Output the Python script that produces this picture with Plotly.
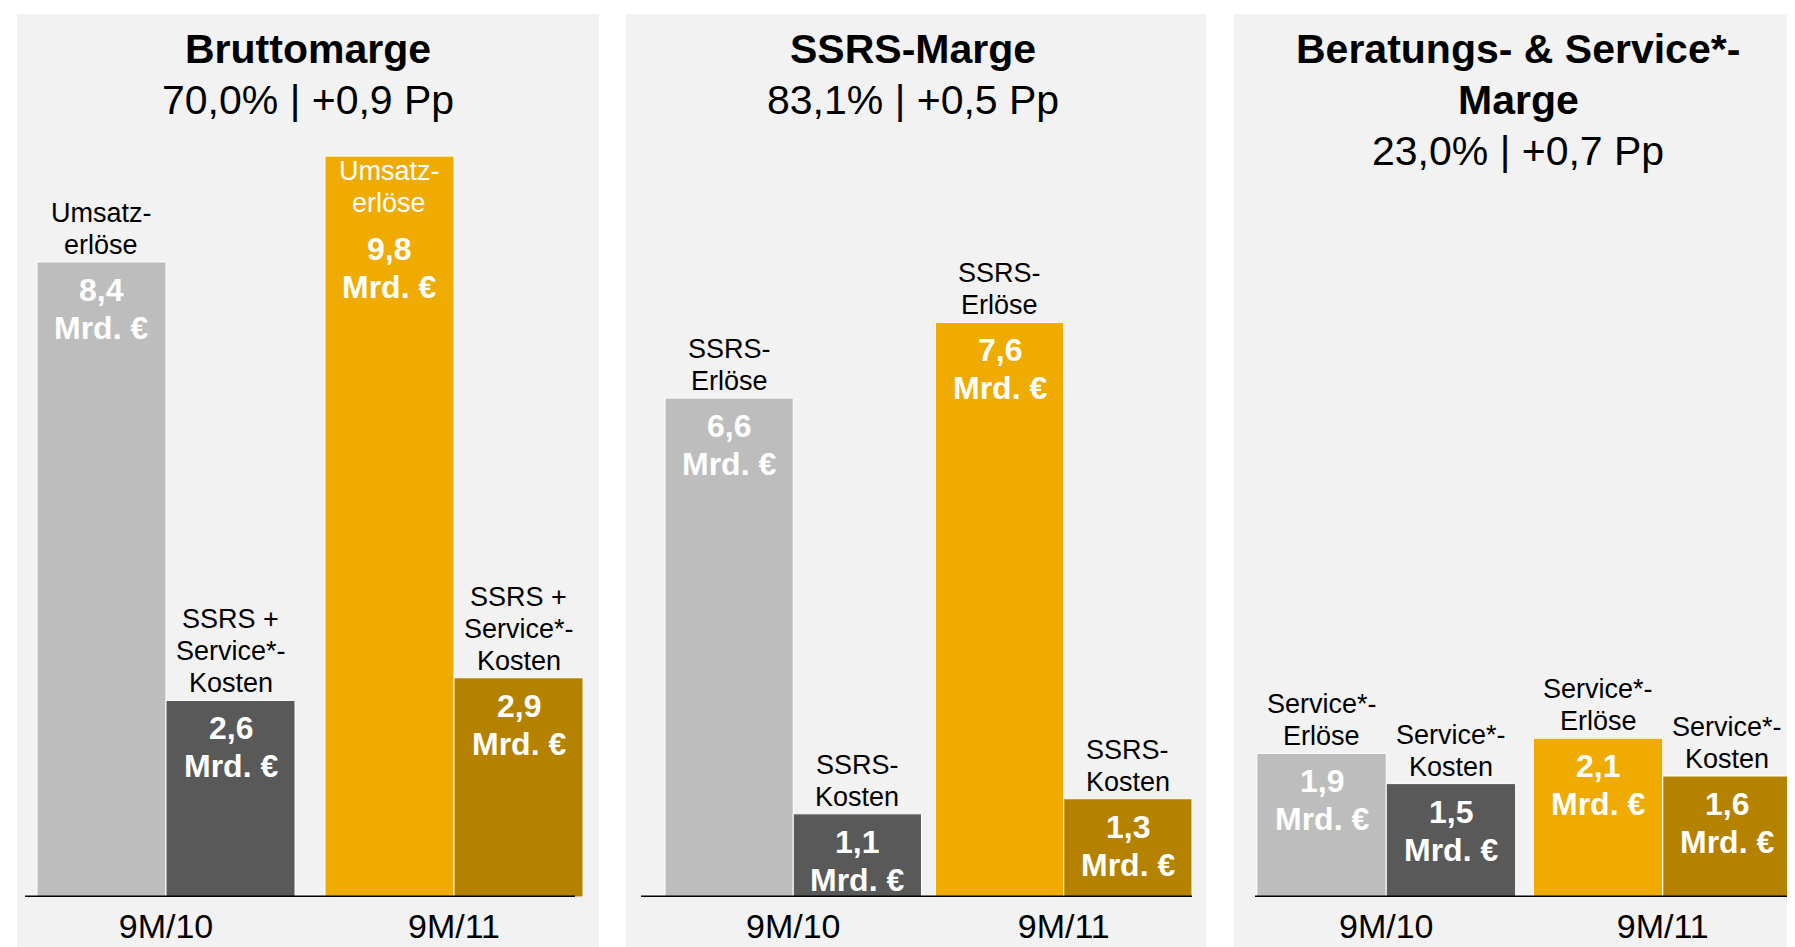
import plotly.graph_objects as go

# --- data -------------------------------------------------------------
PERIODS = ["9M/10", "9M/11"]
TITLES = [["Bruttomarge"], ["SSRS-Marge"], ["Beratungs- & Service*-", "Marge"]]
SUBTITLES = ["70,0% | +0,9 Pp", "83,1% | +0,5 Pp", "23,0% | +0,7 Pp"]
REVENUE = [[8.4, 9.8], [6.6, 7.6], [1.9, 2.1]]
COSTS = [[2.6, 2.9], [1.1, 1.3], [1.5, 1.6]]
REVENUE_LABELS = [["Umsatz-", "erlöse"], ["SSRS-", "Erlöse"], ["Service*-", "Erlöse"]]
COST_LABELS = [["SSRS +", "Service*-", "Kosten"], ["SSRS-", "Kosten"], ["Service*-", "Kosten"]]
UNIT = "Mrd. €"

# --- styling ----------------------------------------------------------
W, H = 1795, 947
FONT = "Liberation Sans, Arial, sans-serif"
REV_COLORS = ["#BDBDBD", "#F0AB00"]
COST_COLORS = ["#595959", "#B58200"]
PANEL_BG = "#F2F2F2"

# pixel layout of the three panels
PANEL_X = [(9, 591), (618, 1198), (1226, 1795)]
DOMAIN_X = [(14, 590), (650, 1191), (1240, 1793)]
LINE_X = [(17, 567), (633, 1184), (1247, 1795)]
TITLE_X = [300, 905, 1510]
BAR_W = [0.448, 0.474, 0.468]
BASE_PX = 889
PX_PER_UNIT = 75.6
Y_MAX = 11

TITLE_SIZE = 41
LABEL_SIZE = 27
VALUE_SIZE = 32
TICK_SIZE = 34
LABEL_STEP = 32   # px between label lines
VALUE_STEP = 38   # px between value lines
TITLE_STEP = 51


def fx(p):
    return p / W


def fy(p):
    return 1 - p / H


def de(v):
    return f"{v:.1f}".replace(".", ",")


fig = go.Figure()
annotations = []
shapes = []


def text_line(text, xref, yref, x, y, yshift, size, color, bold=False):
    annotations.append(dict(
        xref=xref, yref=yref, x=x, y=y, yshift=yshift,
        xanchor="center", yanchor="middle", showarrow=False,
        text=f"<b>{text}</b>" if bold else text,
        font=dict(family=FONT, size=size, color=color),
    ))


for i in range(3):
    n = "" if i == 0 else str(i + 1)
    w = BAR_W[i]

    fig.add_trace(go.Bar(
        x=PERIODS, y=REVENUE[i], width=w, offset=-w,
        marker=dict(color=REV_COLORS, line=dict(color="white", width=1)),
        xaxis="x" + n, yaxis="y" + n, hoverinfo="skip", showlegend=False,
    ))
    fig.add_trace(go.Bar(
        x=PERIODS, y=COSTS[i], width=w, offset=0,
        marker=dict(color=COST_COLORS, line=dict(color="white", width=1)),
        xaxis="x" + n, yaxis="y" + n, hoverinfo="skip", showlegend=False,
    ))

    top_px = BASE_PX - Y_MAX * PX_PER_UNIT
    fig.update_layout(**{
        "xaxis" + n: dict(
            domain=[fx(DOMAIN_X[i][0]), fx(DOMAIN_X[i][1])], range=[-0.5, 1.5],
            type="category", anchor="y" + n, showgrid=False, zeroline=False,
            showline=False, ticks="", ticklabelstandoff=6,
            tickfont=dict(family=FONT, size=TICK_SIZE, color="black"), fixedrange=True,
        ),
        "yaxis" + n: dict(
            domain=[fy(BASE_PX), fy(top_px)], range=[0, Y_MAX], anchor="x" + n,
            visible=False, showgrid=False, zeroline=False, fixedrange=True,
        ),
    })

    # panel background
    shapes.append(dict(type="rect", xref="paper", yref="paper", layer="below",
                       x0=fx(PANEL_X[i][0]), x1=fx(PANEL_X[i][1]), y0=0, y1=fy(6),
                       fillcolor=PANEL_BG, line=dict(width=0)))
    # base line
    shapes.append(dict(type="line", xref="paper", yref="y" + n, layer="above",
                       x0=fx(LINE_X[i][0]), x1=fx(LINE_X[i][1]), y0=0, y1=0,
                       line=dict(color="black", width=3)))

    # title + subtitle
    lines = TITLES[i]
    for k, t in enumerate(lines):
        text_line(t, "paper", "paper", fx(TITLE_X[i]), fy(41 + k * TITLE_STEP), 0,
                  TITLE_SIZE, "black", bold=True)
    text_line(SUBTITLES[i], "paper", "paper", fx(TITLE_X[i]),
              fy(41 + len(lines) * TITLE_STEP), 0, TITLE_SIZE, "black")

    # bar labels
    for j in range(2):
        for vals, labels, sign in ((REVENUE, REVENUE_LABELS, -1), (COSTS, COST_LABELS, 1)):
            v = vals[i][j]
            xpos = j + sign * w / 2
            lab = labels[i]
            inside = v > 9
            if inside:
                for k, t in enumerate(lab):
                    text_line(t, "x" + n, "y" + n, xpos, v, -15 - k * LABEL_STEP,
                              LABEL_SIZE, "white")
                drop = 15 + len(lab) * LABEL_STEP + 14
            else:
                for k, t in enumerate(lab):
                    text_line(t, "x" + n, "y" + n, xpos, v,
                              17 + (len(lab) - 1 - k) * LABEL_STEP, LABEL_SIZE, "black")
                drop = 28
            for k, t in enumerate([de(v), UNIT]):
                text_line(t, "x" + n, "y" + n, xpos, v, -drop - k * VALUE_STEP,
                          VALUE_SIZE, "white", bold=True)

fig.update_layout(
    width=W, height=H, margin=dict(l=0, r=0, t=0, b=0),
    paper_bgcolor="white", plot_bgcolor="rgba(0,0,0,0)",
    barmode="overlay", showlegend=False,
    annotations=annotations, shapes=shapes,
    font=dict(family=FONT),
)

fig.write_html("out.html", config={"displayModeBar": False})
